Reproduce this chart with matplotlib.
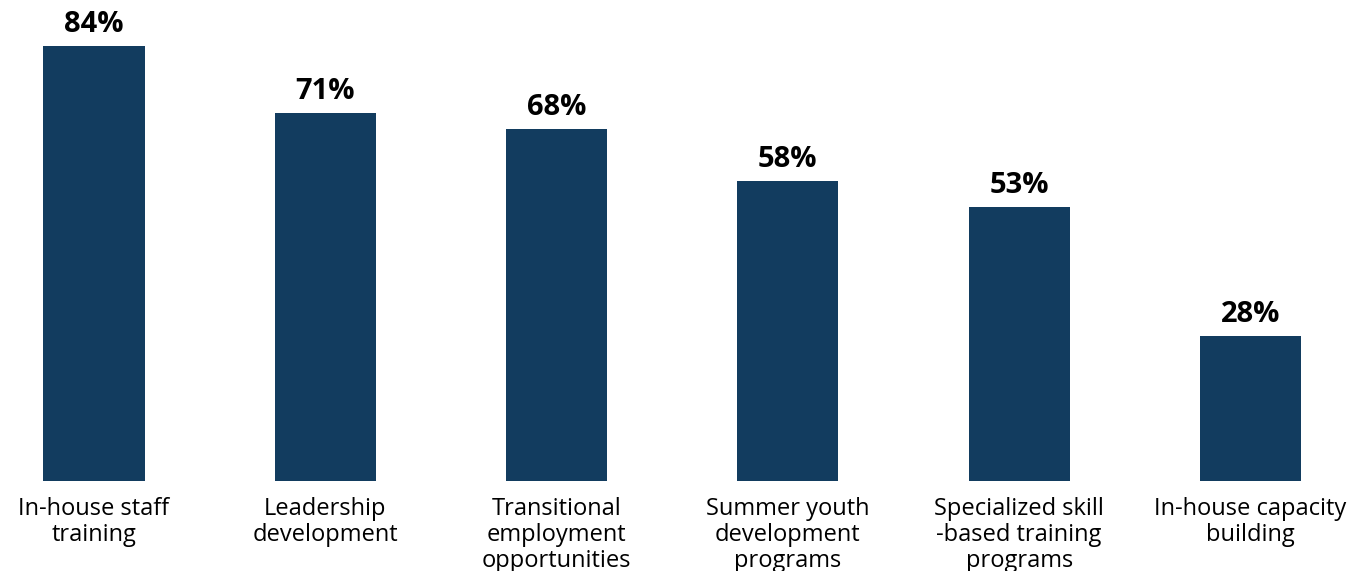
import matplotlib.pyplot as plt

categories = ["In-house staff\ntraining", "Leadership\ndevelopment",
              "Transitional\nemployment\nopportunities",
              "Summer youth\ndevelopment\nprograms",
              "Specialized skill\n-based training\nprograms",
              "In-house capacity\nbuilding"]
values = [84, 71, 68, 58, 53, 28]

bar_color = "#123c5f"

fig = plt.figure(figsize=(13.67, 5.71), dpi=100)
ax = fig.add_axes([0, 90 / 571, 1, 481 / 571])

x = range(len(values))
bars = ax.bar(x, values, width=0.437, color=bar_color)

for b, v in zip(bars, values):
    ax.annotate(f"{v}%", (b.get_x() + b.get_width() / 2, v),
                xytext=(0, 7), textcoords="offset pixels",
                ha="center", va="bottom", fontsize=21, fontweight="bold",
                family="Open Sans", color="black")

for i, lab in enumerate(categories):
    ax.annotate(lab, (i, 0), xytext=(0, -16), textcoords="offset pixels",
                ha="center", va="top", fontsize=17, family="Open Sans",
                linespacing=1.1, color="black", annotation_clip=False)

ax.set_xlim(-0.4064, 5.504)
ax.set_ylim(0, 92.9)
ax.axis("off")

fig.savefig("out.png", dpi=100)
